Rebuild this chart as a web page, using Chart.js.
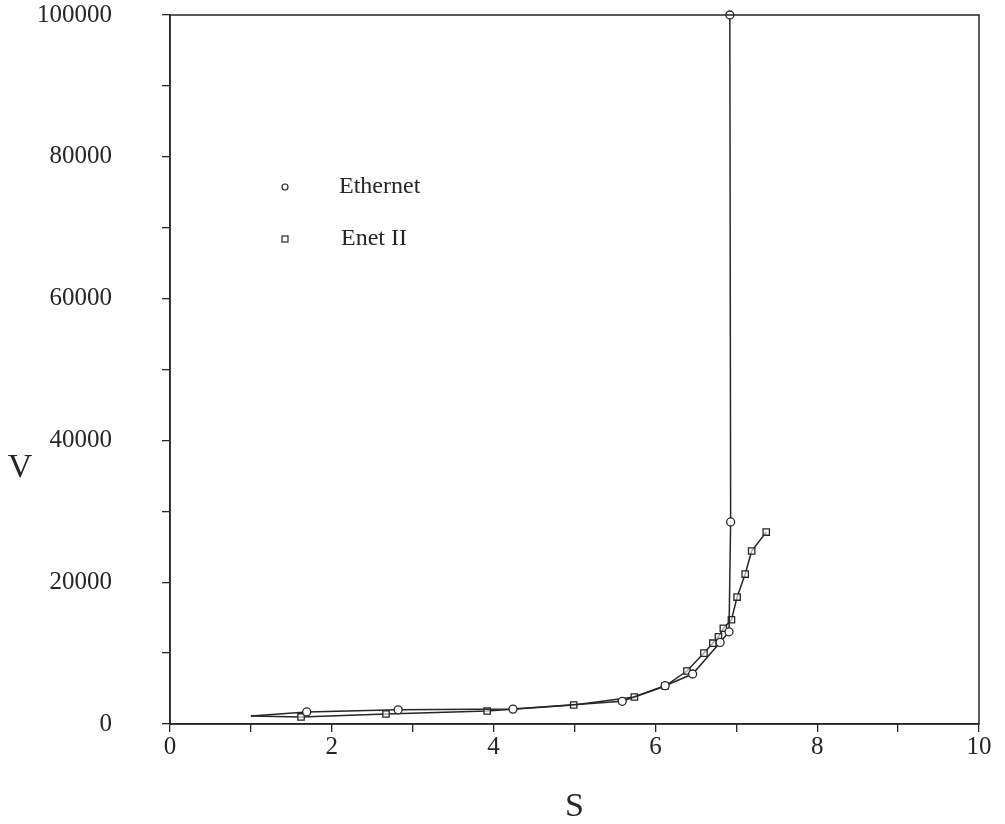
<!DOCTYPE html>
<html>
<head>
<meta charset="utf-8">
<script src="https://cdn.jsdelivr.net/npm/chart.js@4.4.1/dist/chart.umd.min.js"></script>
<style>
  html, body { margin: 0; padding: 0; background: #ffffff; }
  #wrap { width: 1005px; height: 824px; }
</style>
</head>
<body>
<div id="wrap"><canvas id="c" width="1005" height="824"></canvas></div>
<script>
// ---- data ----
const ethernetS = [1.0, 1.69, 2.82, 4.24, 5.59, 6.12, 6.46, 6.80, 6.91, 6.93, 6.92];
const ethernetV = [1130, 1700, 2000, 2100, 3200, 5400, 7050, 11500, 13000, 28500, 100000];

const enetS = [1.0, 1.62, 2.67, 3.92, 4.99, 5.74, 6.12, 6.39, 6.60, 6.71, 6.78, 6.84, 6.94, 7.01, 7.11, 7.19, 7.37];
const enetV = [1130, 1000, 1410, 1830, 2680, 3810, 5360, 7470, 10000, 11400, 12300, 13500, 14700, 17900, 21150, 24400, 27070];

const seriesNames = ["Ethernet", "Enet II"];
const xTickLabels = ["0", "2", "4", "6", "8", "10"];
const yTickLabels = ["0", "20000", "40000", "60000", "80000", "100000"];
const xTitle = "S";
const yTitle = "V";

const INK = "#262626";
const FONT = "'Liberation Serif', 'DejaVu Serif', serif";

function pts(xs, ys) { return xs.map((x, i) => ({ x: x, y: ys[i] })); }

const boxPlugin = {
  id: "boxAndExtras",
  afterDraw(chart) {
    const { ctx, chartArea: a } = chart;
    ctx.save();
    ctx.strokeStyle = INK;
    ctx.lineWidth = 1.5;
    ctx.strokeRect(a.left, a.top, a.right - a.left, a.bottom - a.top);
    // upright y title
    ctx.fillStyle = INK;
    ctx.font = "34px " + FONT;
    ctx.textAlign = "center";
    ctx.textBaseline = "middle";
    ctx.fillText(yTitle, 20, 468);
    // in-plot legend
    ctx.font = "24px " + FONT;
    ctx.textAlign = "left";
    ctx.textBaseline = "alphabetic";
    ctx.lineWidth = 1.2;
    ctx.beginPath();
    ctx.arc(285, 187, 3, 0, Math.PI * 2);
    ctx.stroke();
    ctx.fillText(seriesNames[0], 339, 193);
    ctx.strokeRect(282, 236, 6, 6);
    ctx.fillText(seriesNames[1], 341, 245);
    ctx.restore();
  }
};

new Chart(document.getElementById("c"), {
  type: "line",
  data: {
    datasets: [
      {
        label: seriesNames[0],
        data: pts(ethernetS, ethernetV),
        borderColor: INK,
        borderWidth: 1.5,
        pointStyle: "circle",
        pointRadius: (c) => (c.dataIndex === 0 ? 0 : 4),
        pointBorderWidth: 1.3,
        pointBorderColor: INK,
        pointBackgroundColor: "#ffffff",
        tension: 0,
        clip: false
      },
      {
        label: seriesNames[1],
        data: pts(enetS, enetV),
        borderColor: INK,
        borderWidth: 1.5,
        pointStyle: "rect",
        pointRadius: (c) => (c.dataIndex === 0 ? 0 : 4.5),
        pointBorderWidth: 1.3,
        pointBorderColor: INK,
        pointBackgroundColor: "rgba(255,255,255,0.6)",
        tension: 0,
        clip: false
      }
    ]
  },
  options: {
    responsive: false,
    animation: false,
    layout: { padding: { left: 0, top: 15, right: 26, bottom: 0 } },
    plugins: { legend: { display: false }, tooltip: { enabled: false } },
    scales: {
      x: {
        type: "linear",
        min: 0, max: 10,
        afterFit(s) { s.height = 100; },
        ticks: {
          stepSize: 1,
          color: INK,
          padding: 0,
          maxRotation: 0,
          font: { family: FONT, size: 25 },
          callback: (v) => (v % 2 === 0 ? xTickLabels[v / 2] : "")
        },
        grid: { drawOnChartArea: false, drawTicks: true, tickLength: 8, color: INK, lineWidth: 1.3 },
        border: { display: true, color: INK, width: 1.5 },
        title: {
          display: true, text: xTitle, color: INK,
          font: { family: FONT, size: 34, lineHeight: 1 },
          padding: { top: 0, bottom: 0 }
        }
      },
      y: {
        type: "linear",
        min: 0, max: 100000,
        afterFit(s) { s.width = 170; s.paddingTop = 10; s.paddingBottom = 10; },
        ticks: {
          stepSize: 10000,
          color: INK,
          padding: 50,
          font: { family: FONT, size: 25 },
          callback: (v) => (v % 20000 === 0 ? yTickLabels[v / 20000] : "")
        },
        grid: { drawOnChartArea: false, drawTicks: true, tickLength: 8, color: INK, lineWidth: 1.3 },
        border: { display: true, color: INK, width: 1.5 }
      }
    }
  },
  plugins: [boxPlugin]
});
</script>
</body>
</html>
